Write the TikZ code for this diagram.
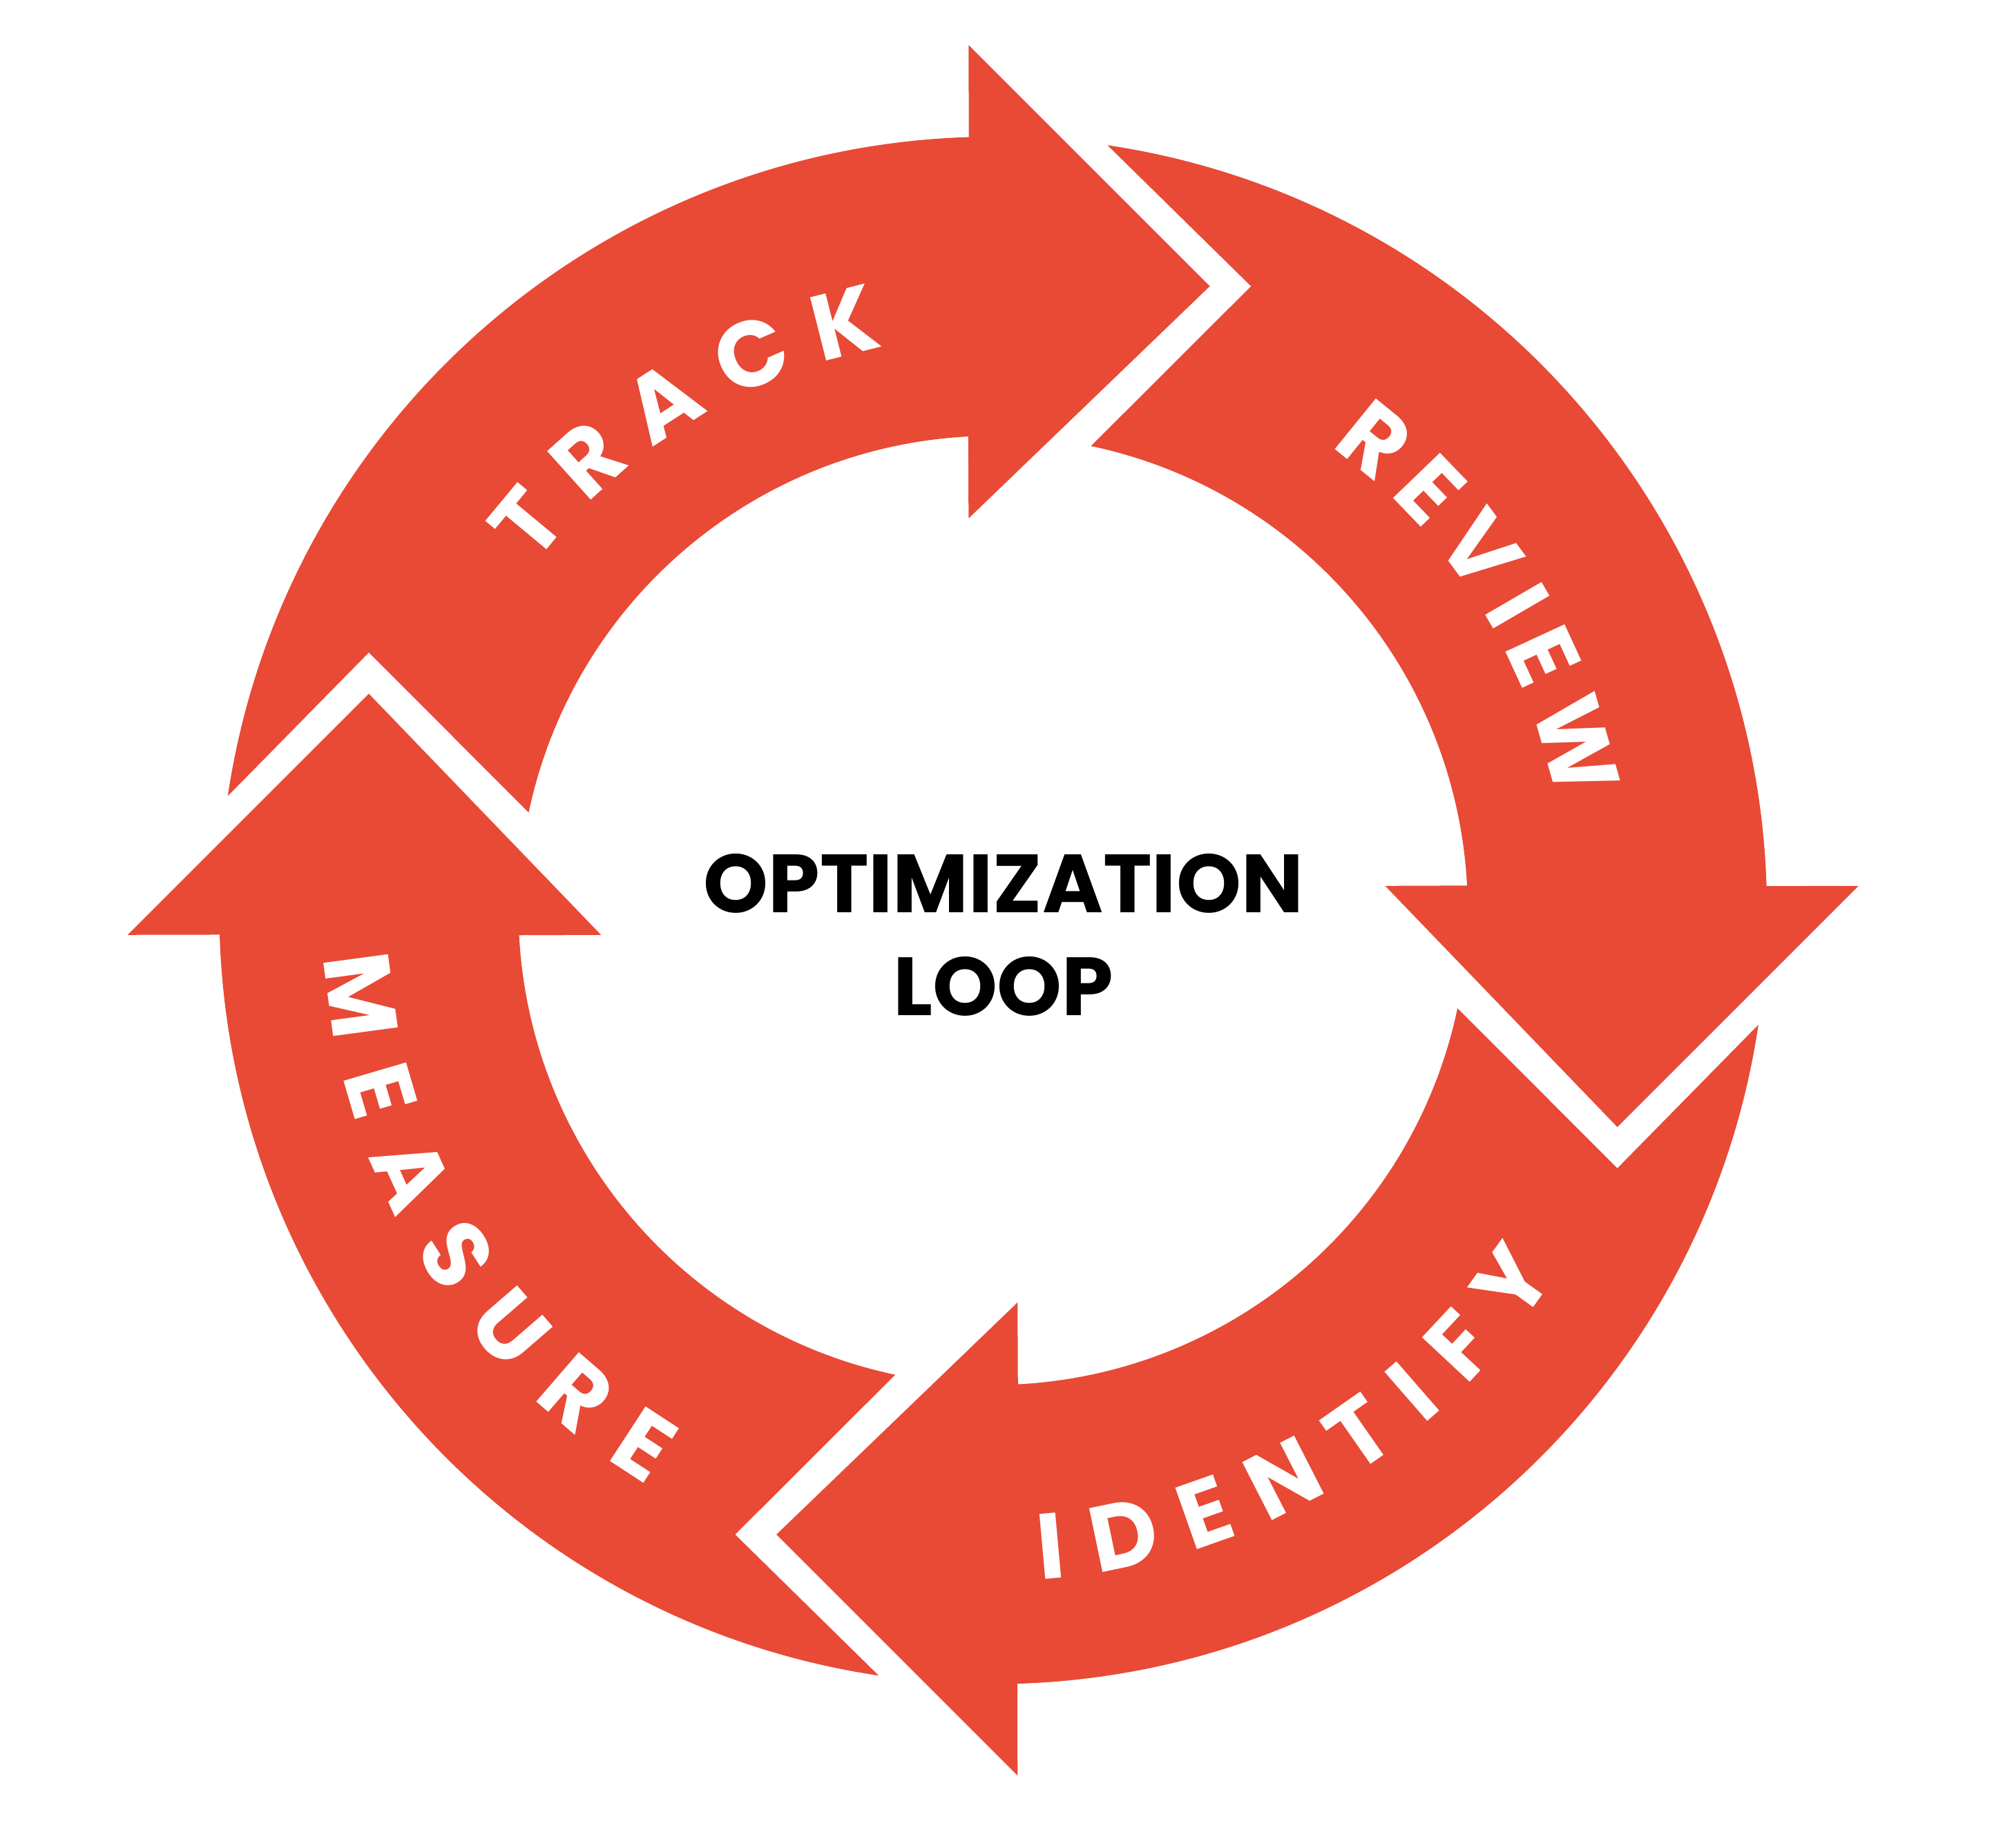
\documentclass[tikz,border=0pt]{standalone}
\usepackage{fontspec}
\setmainfont{Poppins}
\usepackage{tikz}
\usetikzlibrary{decorations.text}
\definecolor{looped}{HTML}{E84A36}
\newcommand\looplabel{\fontsize{36}{36}\selectfont\bfseries\color{white}}

\begin{document}
\begin{tikzpicture}[x=0.5pt,y=0.5pt]
	\tikzset{loop_arrow/.style={fill=looped,draw=none}}
	\tikzset{loop_text/.style={decorate,decoration={text along path,text align=fit to path,text={|\looplabel|#1}}}}
	\useasboundingbox (-770,-727) rectangle (790,706);

	% one arrow, turned four times
	\foreach \turn in {0,-90,-180,-270} {
		\fill [loop_arrow,rotate=\turn] (-19,671) -- (168,484) -- (-19,304) -- (93:368)
			arc[start angle=93,end angle=168.1,radius=368] -- (-484,200) -- (171.5:600)
			arc[start angle=171.5,end angle=91.8,radius=600] -- cycle;
	}

	% labels on the arrows
	\path [loop_text=TRACK] (143:445) arc[start angle=143,end angle=101,radius=445];
	\path [loop_text=REVIEW] (54:445) arc[start angle=54,end angle=11,radius=445];
	\path [loop_text=IDENTIFY] (-86:520) arc[start angle=-86,end angle=-33,radius=520];
	\path [loop_text=MEASURE] (184:520) arc[start angle=184,end angle=239,radius=520];

	\node (title) at (8,-19) [align=center,font=\fontsize{32}{40}\selectfont\bfseries] {OPTIMIZATION\\LOOP};
\end{tikzpicture}
\end{document}
